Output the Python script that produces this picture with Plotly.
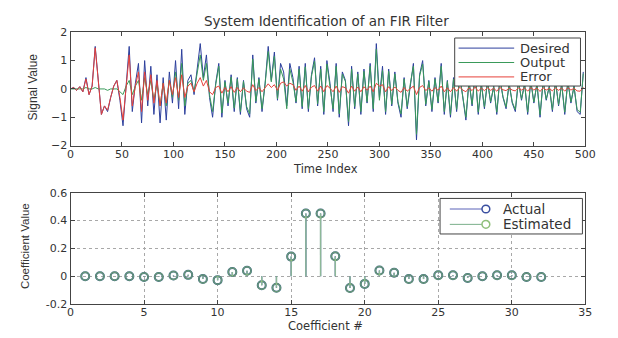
import plotly.graph_objects as go

# ---------------- data ----------------
time_index = list(range(0, 500, 3))

desired = [0.0, 0.05, -0.05, 0.08, -0.1, 0.4, -0.2, 0.1, 1.5, 0.2,
           -0.9, -0.6, -0.8, -0.3, 0.1, 0.3, -0.4, -1.3, 0.2, 1.5,
           -0.8, 0.2, 0.9, -1.2, 1.0, -0.6, 0.8, -0.9, 0.5, -1.2,
           0.4, -1.1, 0.6, -0.5, 1.0, -0.7, 1.4, -0.9, 0.3, 0.5,
           -0.2, 0.7, 1.6, 0.4, 1.2, -0.3, -1.0, 0.2, 0.9, -1.0,
           0.3, -0.6, 0.5, -0.8, 0.4, -0.9, 0.3, -0.7, -1.0, 1.2,
           -0.5, 0.4, -0.8, 0.2, 1.5, 0.3, 1.3, -0.4, 0.9, 0.6,
           -0.6, 0.9, 0.4, -0.5, 0.8, -0.7, 0.9, -0.8, 0.5, 1.1,
           -0.6, 0.8, -0.9, 1.0, 0.2, -0.8, 0.9, -1.0, 0.6, 0.3,
           -1.3, 0.8, -0.7, 0.6, -0.9, 0.7, -0.5, 0.9, -0.8, 1.6,
           -0.3, 0.8, -0.9, 0.7, -0.6, 0.6, -0.5, -1.0, 0.4, -0.7,
           0.2, 0.9, -1.8, 0.5, 1.0, -0.6, 0.3, -0.8, 0.4, -0.5,
           0.9, -0.9, 0.3, -1.0, 0.4, -0.8, 0.5, -0.4, -1.1, 0.3,
           -0.6, 0.6, -0.9, 0.2, -0.7, 0.3, -0.5, 0.1, -0.9, 0.4,
           -0.3, -0.7, 0.2, -0.5, -0.8, 0.3, -0.4, 0.2, -0.9, 0.3,
           -0.5, 0.2, -1.0, 0.3, -0.4, 0.1, -0.8, 0.3, -0.6, 0.2,
           -0.9, 0.3, -0.5, 0.1, -0.8, -0.9, 0.6]

output = [0.0, 0.0, 0.0, 0.0, 0.0, 0.05, 0.0, 0.0, 0.05, 0.0,
          0.0, 0.0, -0.05, 0.0, 0.0, 0.0, -0.1, -0.2, 0.1, 0.3,
          -0.2, 0.1, 0.3, -0.4, 0.4, -0.2, 0.3, -0.4, 0.2, -0.6,
          0.2, -0.6, 0.3, -0.3, 0.6, -0.4, 0.9, -0.6, 0.2, 0.3,
          -0.1, 0.5, 1.2, 0.3, 0.9, -0.2, -0.8, 0.15, 0.8, -0.85,
          0.25, -0.5, 0.42, -0.68, 0.35, -0.8, 0.26, -0.62, -0.88, 1.05,
          -0.44, 0.35, -0.7, 0.17, 1.32, 0.25, 1.15, -0.35, 0.7, 0.35,
          -0.7, 0.7, 0.25, -0.45, 0.7, -0.62, 0.78, -0.7, 0.44, 0.98,
          -0.52, 0.7, -0.8, 0.88, 0.17, -0.7, 0.8, -0.88, 0.52, 0.26,
          -1.15, 0.7, -0.62, 0.53, -0.8, 0.62, -0.45, 0.8, -0.7, 1.4,
          -0.4, 0.65, -0.8, 0.62, -0.54, 0.53, -0.45, -0.88, 0.35, -0.62,
          0.18, 0.8, -1.6, 0.45, 0.88, -0.54, 0.26, -0.72, 0.35, -0.45,
          0.8, -0.8, 0.26, -0.9, 0.35, -0.72, 0.44, -0.36, -1.0, 0.26,
          -0.54, 0.53, -0.82, 0.17, -0.64, 0.26, -0.45, 0.08, -0.82, 0.35,
          -0.27, -0.64, 0.17, -0.46, -0.73, 0.26, -0.36, 0.17, -0.82, 0.26,
          -0.46, 0.17, -0.91, 0.26, -0.36, 0.08, -0.73, 0.26, -0.55, 0.17,
          -0.82, 0.26, -0.46, 0.08, -0.73, -0.82, 0.54]

error = [0.0, 0.05, -0.05, 0.08, -0.1, 0.35, -0.2, 0.1, 1.45, 0.2,
         -0.9, -0.6, -0.75, -0.3, 0.1, 0.3, -0.3, -1.1, 0.1, 1.2,
         -0.6, 0.1, 0.6, -0.8, 0.6, -0.4, 0.5, -0.5, 0.3, -0.6,
         0.2, -0.5, 0.3, -0.2, 0.4, -0.3, 0.5, -0.3, 0.1, 0.2,
         -0.1, 0.2, 0.4, 0.1, 0.3, -0.1, -0.2, 0.05, 0.1, -0.15,
         0.05, -0.1, 0.08, -0.12, 0.05, -0.1, 0.04, -0.08, -0.12, 0.15,
         -0.06, 0.05, -0.1, 0.03, 0.18, 0.05, 0.15, -0.05, 0.2, 0.25,
         0.1, 0.2, 0.15, -0.05, 0.1, -0.08, 0.12, -0.1, 0.06, 0.12,
         -0.08, 0.1, -0.1, 0.12, 0.03, -0.1, 0.1, -0.12, 0.08, 0.04,
         -0.15, 0.1, -0.08, 0.07, -0.1, 0.08, -0.05, 0.1, -0.1, 0.2,
         0.1, 0.15, -0.1, 0.08, -0.06, 0.07, -0.05, -0.12, 0.05, -0.08,
         0.02, 0.1, -0.2, 0.05, 0.12, -0.06, 0.04, -0.08, 0.05, -0.05,
         0.1, -0.1, 0.04, -0.1, 0.05, -0.08, 0.06, -0.04, -0.1, 0.04,
         -0.06, 0.07, -0.08, 0.03, -0.06, 0.04, -0.05, 0.02, -0.08, 0.05,
         -0.03, -0.06, 0.03, -0.04, -0.07, 0.04, -0.04, 0.03, -0.08, 0.04,
         -0.04, 0.03, -0.09, 0.04, -0.04, 0.02, -0.07, 0.04, -0.05, 0.03,
         -0.08, 0.04, -0.04, 0.02, -0.07, -0.08, 0.06]

coef_index = list(range(1, 33))
actual = [0.0, 0.0, 0.0, 0.0, -0.005, -0.005, 0.005, 0.01, -0.02, -0.028,
          0.03, 0.039, -0.065, -0.083, 0.141, 0.45, 0.45, 0.143, -0.085, -0.055,
          0.041, 0.025, -0.02, -0.02, 0.007, 0.007, -0.012, 0.0, 0.007, 0.007,
          -0.005, -0.005]
estimated = [0.0, 0.0, 0.0, 0.0, -0.005, -0.005, 0.005, 0.01, -0.02, -0.028,
             0.03, 0.039, -0.065, -0.083, 0.141, 0.45, 0.45, 0.143, -0.085, -0.055,
             0.041, 0.025, -0.02, -0.02, 0.007, 0.007, -0.012, 0.0, 0.007, 0.007,
             -0.005, -0.005]

top_legend_labels = ["Desired", "Output", "Error"]
bottom_legend_labels = ["Actual", "Estimated"]

# ---------------- styling ----------------
# the page body keeps its default 8px margin, so reference pixel positions
# are shifted by 8px inside the figure
OFF = 8
W, H = 618 - 2 * OFF, 338 - OFF
FONT = "DejaVu Sans, Verdana, sans-serif"
FONT_NARROW = "Liberation Sans, Arial, sans-serif"
TXT = "#333333"
AXC = "#444444"
BLUE = "#2c3f9c"
GREEN = "#3a9a5a"
RED = "#e6403a"
EST = "#8fbf7a"
STEM_GREEN = "#8db898"


def px_x(p):
    return (p - OFF) / W


def px_y(p):
    return 1 - (p - OFF) / H


fig = go.Figure()

# top subplot
fig.add_trace(go.Scatter(x=time_index, y=desired, mode="lines", name=top_legend_labels[0],
                         line=dict(color=BLUE, width=1), xaxis="x", yaxis="y"))
fig.add_trace(go.Scatter(x=time_index, y=output, mode="lines", name=top_legend_labels[1],
                         line=dict(color=GREEN, width=1), xaxis="x", yaxis="y"))
fig.add_trace(go.Scatter(x=time_index, y=error, mode="lines", name=top_legend_labels[2],
                         line=dict(color=RED, width=1), xaxis="x", yaxis="y"))


# bottom subplot: stems
def stems(xs, ys):
    sx, sy = [], []
    for a, b in zip(xs, ys):
        sx += [a, a, None]
        sy += [0, b, None]
    return sx, sy


ax_, ay_ = stems(coef_index, actual)
ex_, ey_ = stems(coef_index, estimated)
fig.add_trace(go.Scatter(x=ax_, y=ay_, mode="lines", line=dict(color=BLUE, width=1.2),
                         xaxis="x2", yaxis="y2", hoverinfo="skip"))
fig.add_trace(go.Scatter(x=coef_index, y=actual, mode="markers", name=bottom_legend_labels[0],
                         marker=dict(symbol="circle-open", size=8, color="#2f5a86",
                                     line=dict(width=2, color="#2f5a86")),
                         xaxis="x2", yaxis="y2"))
fig.add_trace(go.Scatter(x=ex_, y=ey_, mode="lines", line=dict(color=STEM_GREEN, width=1.5),
                         xaxis="x2", yaxis="y2", hoverinfo="skip"))
fig.add_trace(go.Scatter(x=coef_index, y=estimated, mode="markers", name=bottom_legend_labels[1],
                         marker=dict(symbol="circle-open", size=8, color="rgba(150,200,110,0.55)",
                                     line=dict(width=1.5, color="rgba(150,200,110,0.55)")),
                         xaxis="x2", yaxis="y2"))

axis_common = dict(showline=True, linecolor=AXC, linewidth=1, mirror="ticks",
                   ticks="inside", ticklen=4, tickcolor=AXC,
                   tickfont=dict(family=FONT, size=11, color=TXT),
                   zeroline=False)

ann_common = dict(xref="paper", yref="paper", showarrow=False,
                  xanchor="center", yanchor="middle")

shapes = []
annotations = [
    dict(text="System Identification of an FIR Filter", x=px_x(331), y=px_y(15),
         font=dict(family=FONT, size=13.5, color=TXT), **ann_common),
    dict(text="Time Index", x=px_x(329), y=px_y(169.5),
         font=dict(family=FONT, size=11.5, color=TXT), **ann_common),
    dict(text="Signal Value", x=px_x(30), y=px_y(84), textangle=-90,
         font=dict(family=FONT_NARROW, size=12, color=TXT), **ann_common),
    dict(text="Coefficient #", x=px_x(330), y=px_y(333),
         font=dict(family=FONT, size=11.5, color=TXT), **ann_common),
    dict(text="Coefficient Value", x=px_x(22), y=px_y(250), textangle=-90,
         font=dict(family=FONT_NARROW, size=11.5, color=TXT), **ann_common),
]

# --- hand-built legend for the top panel (MATLAB-like compact rows)
shapes.append(dict(type="rect", xref="paper", yref="paper",
                   x0=px_x(462), x1=px_x(591), y0=px_y(83), y1=px_y(33),
                   line=dict(color=AXC, width=1), fillcolor="white", layer="above"))
for i, (lab, col) in enumerate(zip(top_legend_labels, [BLUE, GREEN, RED])):
    yy = 43.5 + 15 * i
    shapes.append(dict(type="line", xref="paper", yref="paper",
                       x0=px_x(466), x1=px_x(523), y0=px_y(yy), y1=px_y(yy),
                       line=dict(color=col, width=1), layer="above"))
    annotations.append(dict(text=lab, x=px_x(527), y=px_y(yy), xref="paper", yref="paper",
                            showarrow=False, xanchor="left", yanchor="middle",
                            font=dict(family=FONT, size=13, color=TXT)))

# --- hand-built legend for the bottom panel
shapes.append(dict(type="rect", xref="paper", yref="paper",
                   x0=px_x(447), x1=px_x(593), y0=px_y(237), y1=px_y(200),
                   line=dict(color=AXC, width=1), fillcolor="white", layer="above"))
for i, (lab, col) in enumerate(zip(bottom_legend_labels, ["#5a62b8", "#7ab08a"])):
    yy = 211 + 16 * i
    shapes.append(dict(type="line", xref="paper", yref="paper",
                       x0=px_x(457), x1=px_x(490), y0=px_y(yy), y1=px_y(yy),
                       line=dict(color=col, width=1), layer="above"))
    shapes.append(dict(type="circle", xref="paper", yref="paper",
                       x0=px_x(490), x1=px_x(498), y0=px_y(yy + 4), y1=px_y(yy - 4),
                       line=dict(color=["#3a4fa0", EST][i], width=1.5),
                       fillcolor="rgba(0,0,0,0)", layer="above"))
    annotations.append(dict(text=lab, x=px_x(510), y=px_y(yy), xref="paper", yref="paper",
                            showarrow=False, xanchor="left", yanchor="middle",
                            font=dict(family=FONT, size=13.5, color=TXT)))

fig.update_layout(
    width=W, height=H, autosize=False,
    margin=dict(l=0, r=0, t=0, b=0),
    paper_bgcolor="white", plot_bgcolor="white",
    font=dict(family=FONT, size=12, color=TXT),
    showlegend=False,
    xaxis=dict(domain=[px_x(68), px_x(596)], range=[0, 500], tickvals=list(range(0, 501, 50)),
               showgrid=False, anchor="y", ticklabelstandoff=-2, **axis_common),
    yaxis=dict(domain=[px_y(145), px_y(27)], range=[-2, 2], tickvals=[-2, -1, 0, 1, 2],
               showgrid=False, anchor="x", **axis_common),
    xaxis2=dict(domain=[px_x(68), px_x(596)], range=[0, 35], tickvals=list(range(0, 36, 5)),
                showgrid=True, gridcolor="#a8a8a8", griddash="dot", gridwidth=1,
                anchor="y2", ticklabelstandoff=-2, **axis_common),
    yaxis2=dict(domain=[px_y(310), px_y(194)], range=[-0.2, 0.6],
                tickvals=[-0.2, 0, 0.2, 0.4, 0.6], ticktext=["-0.2", "0", "0.2", "0.4", "0.6"],
                showgrid=True, gridcolor="#a8a8a8", griddash="dot", gridwidth=1,
                anchor="x2", **axis_common),
    shapes=shapes,
    annotations=annotations,
)

fig.write_html("out.html", config={"responsive": False})
